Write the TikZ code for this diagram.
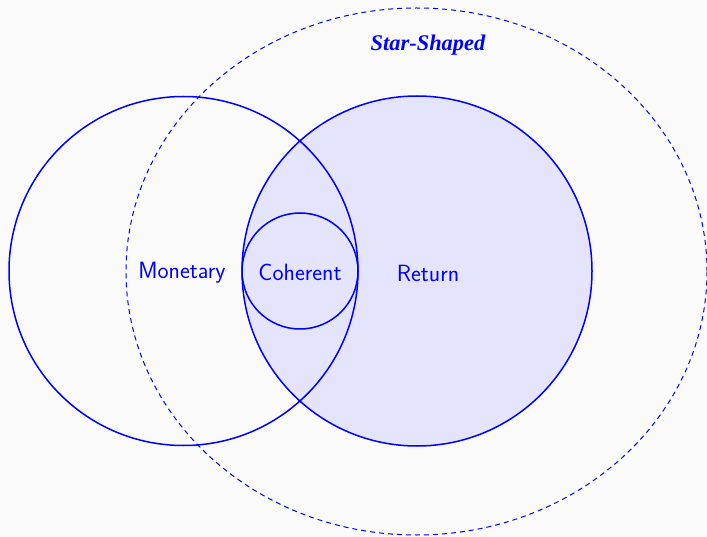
\documentclass[tikz,border=0pt]{standalone}
\usepackage{fontspec}
\newfontfamily\starfont{Liberation Serif}
\definecolor{bg}{HTML}{FAFAFA}
\definecolor{fillb}{HTML}{E4E4FC}
\begin{document}
\begin{tikzpicture}[x=1pt,y=-1pt,
  setline/.style={draw=blue,line width=1.5pt},
  lbl/.style={text=blue,font=\sffamily\fontsize{23.5}{27}\selectfont,inner sep=0pt}]
\fill[bg] (0,0) rectangle (707,537);
\useasboundingbox (0,0) rectangle (707,537);
\fill[fillb] (417,271) circle (175);
\draw[setline] (183.5,271) circle (174.5);
\draw[setline] (417,271) circle (175);
\draw[setline] (300,271) circle (58);
\draw[setline,line width=1pt,dash pattern=on 5pt off 4pt] (416.5,271.5) ellipse (290.5 and 263.5);
\node[lbl] (mon) at (182,272.5) {Monetary};
\node[lbl] (coh) at (300,272) {Coherent};
\node[lbl] (ret) at (428,273.5) {Return};
\node[text=blue,inner sep=0pt,font=\starfont\bfseries\itshape\fontsize{22.4}{26}\selectfont] (star) at (428,45.5) {Star-Shaped};
\end{tikzpicture}
\end{document}
